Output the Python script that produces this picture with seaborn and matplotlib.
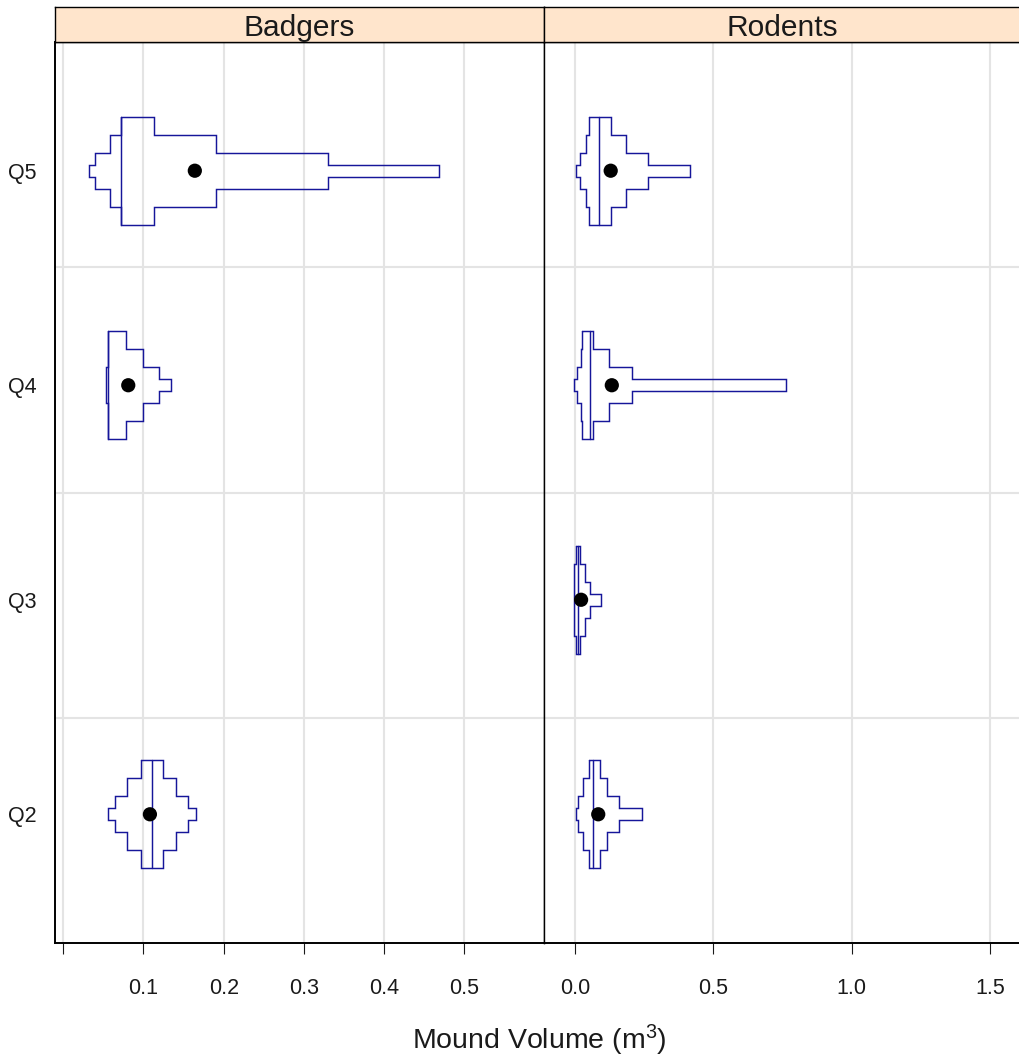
import numpy as np
import pandas as pd
import matplotlib
matplotlib.use("Agg")
import matplotlib.pyplot as plt
import seaborn as sns

# Letter-value summaries of mound volume (m^3) per group and quarter.
groups = ["Badgers", "Badgers", "Badgers", "Rodents", "Rodents", "Rodents", "Rodents"]
quarters = ["Q5", "Q4", "Q2", "Q5", "Q4", "Q3", "Q2"]
quarter_order = ["Q2", "Q3", "Q4", "Q5"]

# lower / upper letter values, from the fourths outwards (F, E, D, C)
lower_lv = [
    [0.072, 0.058, 0.040, 0.032],
    [0.056, 0.056, 0.0535, 0.0535],
    [0.097, 0.079, 0.065, 0.056],
    [0.051, 0.039, 0.018, 0.004],
    [0.027, 0.021, 0.006, -0.004],
    [0.005, -0.004, -0.004, -0.004],
    [0.052, 0.030, 0.012, 0.004],
]
upper_lv = [
    [0.113, 0.190, 0.330, 0.468],
    [0.078, 0.099, 0.119, 0.134],
    [0.124, 0.141, 0.155, 0.165],
    [0.129, 0.183, 0.265, 0.416],
    [0.066, 0.123, 0.205, 0.763],
    [0.019, 0.036, 0.053, 0.095],
    [0.090, 0.115, 0.160, 0.243],
]
medians = [0.072, 0.056, 0.110, 0.088, 0.055, 0.012, 0.066]
means = [0.164, 0.081, 0.108, 0.129, 0.133, 0.022, 0.084]

# half heights of the nested boxes (in category units)
half_heights = [0.2515, 0.1685, 0.083, 0.0287]

x_ticks = {"Badgers": [0.0, 0.1, 0.2, 0.3, 0.4, 0.5], "Rodents": [0.0, 0.5, 1.0, 1.5]}
x_labels = {"Badgers": ["", "0.1", "0.2", "0.3", "0.4", "0.5"],
            "Rodents": ["0.0", "0.5", "1.0", "1.5"]}
x_limits = {"Badgers": (-0.01035, 0.5994), "Rodents": (-0.112, 1.608)}
y_limits = (0.4, 4.6)

LINE = "#16169a"
GRID = "#e4e4e4"
STRIP = "#ffe5cc"
TEXT = "#1a1a1a"

df = pd.DataFrame({
    "group": groups,
    "quarter": quarters,
    "ypos": [quarter_order.index(q) + 1 for q in quarters],
    "median": medians,
    "mean": means,
})
df["lower"] = lower_lv
df["upper"] = upper_lv

sns.set_theme(style="white")
plt.rcParams["font.family"] = ["Liberation Sans", "DejaVu Sans"]
plt.rcParams["mathtext.default"] = "regular"


def draw_letter_values(data, **kws):
    """Outline of the nested letter-value boxes plus the median line."""
    ax = plt.gca()
    for _, r in data.iterrows():
        y = r["ypos"]
        lo, hi, h = r["lower"], r["upper"], half_heights
        k = len(h)
        xs, ys = [lo[0], hi[0]], [y + h[0], y + h[0]]
        for i in range(1, k):
            xs += [hi[i - 1], hi[i]]
            ys += [y + h[i], y + h[i]]
        xs += [hi[k - 1]]
        ys += [y - h[k - 1]]
        for i in range(k - 1, 0, -1):
            xs += [hi[i - 1], hi[i - 1]]
            ys += [y - h[i], y - h[i - 1]]
        xs += [lo[0]]
        ys += [y - h[0]]
        for i in range(1, k):
            xs += [lo[i - 1], lo[i]]
            ys += [y - h[i], y - h[i]]
        xs += [lo[k - 1]]
        ys += [y + h[k - 1]]
        for i in range(k - 1, 0, -1):
            xs += [lo[i - 1], lo[i - 1]]
            ys += [y + h[i], y + h[i - 1]]
        xs += [xs[0]]
        ys += [ys[0]]
        ax.plot(xs, ys, color=LINE, lw=1.05, solid_joinstyle="miter", zorder=3)
        ax.plot([r["median"], r["median"]], [y - h[0], y + h[0]],
                color=LINE, lw=1.05, zorder=3)


g = sns.FacetGrid(df, col="group", col_order=["Badgers", "Rodents"],
                  sharex=False, sharey=True, height=5, aspect=1)
g.map_dataframe(draw_letter_values)
g.map_dataframe(sns.scatterplot, x="mean", y="ypos", color="black",
                s=105, edgecolor="none", zorder=4)
g.set_titles("")
g.set_axis_labels("", "")

fig = g.figure
W, H = 1019, 1059
fig.set_size_inches(W / 100, H / 100)
fig.set_dpi(100)

panel_px = {"Badgers": (55, 544), "Rodents": (544, 1020)}
top_px, bottom_px, strip_top_px = 42, 943, 7

for name, ax in zip(["Badgers", "Rodents"], g.axes.flat):
    x0, x1 = panel_px[name]
    ax.set_position([x0 / W, (H - bottom_px) / H, (x1 - x0) / W, (bottom_px - top_px) / H])
    ax.set_xlim(*x_limits[name])
    ax.set_ylim(*y_limits)
    ax.set_xticks(x_ticks[name])
    ax.set_xticklabels(x_labels[name])
    ax.set_yticks([1, 2, 3, 4])
    ax.set_yticklabels(quarter_order)
    ax.tick_params(axis="x", direction="out", length=8, width=0.8, pad=17,
                   labelsize=15.5, colors=TEXT, bottom=True)
    ax.tick_params(axis="y", length=0, pad=13, labelsize=15.5, colors=TEXT)
    if name == "Rodents":
        ax.tick_params(axis="y", labelleft=False)
    ax.set_axisbelow(True)
    for xt in x_ticks[name]:
        ax.axvline(xt, color=GRID, lw=1.5, zorder=0)
    for yg in np.linspace(y_limits[0], y_limits[1], 5)[1:-1]:
        ax.axhline(yg, color=GRID, lw=1.5, zorder=0)
    for sp in ax.spines.values():
        sp.set_visible(True)
        sp.set_color("black")
        sp.set_linewidth(1.0)
    ax.spines["left"].set_linewidth(1.4 if name == "Badgers" else 1.0)
    ax.spines["bottom"].set_linewidth(1.4)

    sax = fig.add_axes([x0 / W, (H - top_px) / H, (x1 - x0) / W, (top_px - strip_top_px) / H])
    sax.set_facecolor(STRIP)
    sax.set_xticks([])
    sax.set_yticks([])
    for sp in sax.spines.values():
        sp.set_visible(True)
        sp.set_color("black")
        sp.set_linewidth(1.0)
    sax.text(0.5, 0.40, name, transform=sax.transAxes,
             ha="center", va="center", fontsize=21.5, color=TEXT)

fig.text(539 / W, 1 - 1040 / H, "Mound Volume (m$^{3}$)", ha="center", va="center",
         fontsize=20.5, color=TEXT)

fig.savefig("out.png", dpi=100)
